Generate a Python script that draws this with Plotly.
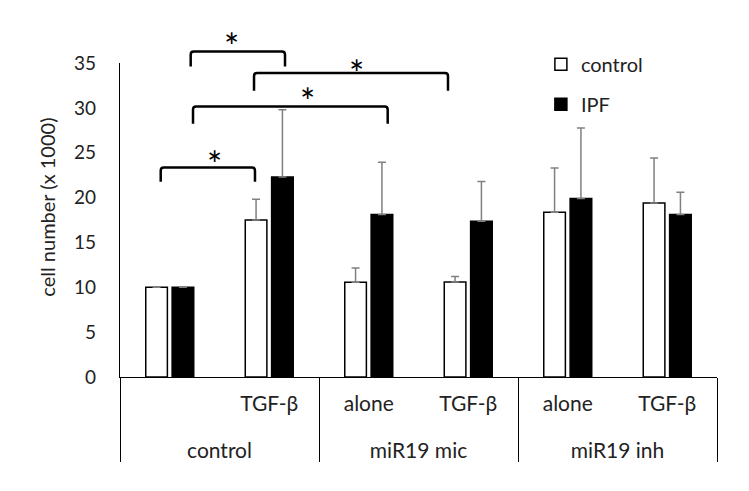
import plotly.graph_objects as go

# ---- data ----
groups = ["control", "control", "miR19 mic", "miR19 mic", "miR19 inh", "miR19 inh"]
subcats = [" ", "TGF-β", "alone", "TGF-β", "alone", "TGF-β"]
control_vals = [10.0, 17.5, 10.55, 10.6, 18.35, 19.4]
control_err = [0.0, 2.3, 1.6, 0.6, 4.95, 5.0]
ipf_vals = [10.0, 22.3, 18.1, 17.35, 19.9, 18.1]
ipf_err = [0.0, 7.5, 5.85, 4.45, 7.85, 2.5]
y_ticks = [0, 5, 10, 15, 20, 25, 30, 35]
y_title = "cell number (x 1000)"

# significance brackets (paper coords): x0, x1, ytop, yend, star_x, star_y
brackets = [
    (0.1184, 0.2764, 1.0369, 0.9892, 0.1876, 1.087),
    (0.2245, 0.5494, 0.9682, 0.9118, 0.3965, 1.001),
    (0.1223, 0.4484, 0.8618, 0.8067, 0.3149, 0.9096),
    (0.0682, 0.2261, 0.6675, 0.6220, 0.1591, 0.7111),
]

FONT = "Lato"
TXT = "#222"
# page body has an 8px default margin, so the figure is 8px smaller
W, H = 741, 483
ML, MR, MT = 112, 32, 55
PW, PH = W - ML - MR, 314
MB = H - MT - PH

# plotly orders multicategory inner labels by first appearance:
# feed points so that "alone" is seen before "TGF-β"
order = [0, 2, 1, 3, 4, 5]
xg = [groups[i] for i in order]
xs = [subcats[i] + "<br> " for i in order]


def pick(a):
    return [a[i] for i in order]


fig = go.Figure()
fig.add_trace(go.Bar(
    x=[xg, xs], y=pick(control_vals), name="control", legendgroup="c",
    marker=dict(color="white", line=dict(color="black", width=1.5)),
    error_y=dict(type="data", array=pick(control_err), symmetric=False, arrayminus=[0] * 6,
                 color="#808080", thickness=1.5, width=4),
))
fig.add_trace(go.Bar(
    x=[xg, xs], y=pick(ipf_vals), name="IPF", legendgroup="i",
    marker=dict(color="black", line=dict(color="black", width=1.5)),
    error_y=dict(type="data", array=pick(ipf_err), symmetric=False, arrayminus=[0] * 6,
                 color="#808080", thickness=1.5, width=4),
))

shapes = []
annotations = []
rx, ry = 3 / PW, 3 / PH
for x0, x1, yt, ye, sx, sy in brackets:
    path = (f"M {x0},{ye} L {x0},{yt - ry} Q {x0},{yt} {x0 + rx},{yt} "
            f"L {x1 - rx},{yt} Q {x1},{yt} {x1},{yt - ry} L {x1},{ye}")
    shapes.append(dict(type="path", xref="paper", yref="paper", path=path,
                       line=dict(color="black", width=2.5)))
    annotations.append(dict(x=sx, y=sy, xref="paper", yref="paper", text="*",
                            showarrow=False, xanchor="center", yanchor="middle",
                            yshift=-10, font=dict(family=FONT, size=36, color="black")))

annotations.append(dict(x=-0.1223, y=0.5424, xref="paper", yref="paper", text=y_title,
                        textangle=-90, showarrow=False, xanchor="center", yanchor="middle",
                        font=dict(family=FONT, size=20, color=TXT)))

fig.update_layout(
    width=W, height=H,
    margin=dict(l=ML, r=MR, t=MT, b=MB, autoexpand=False),
    paper_bgcolor="white", plot_bgcolor="white",
    font=dict(family=FONT, size=20, color=TXT),
    barmode="group", bargap=0.47, bargroupgap=0.18,
    showlegend=True,
    legend=dict(x=0.705, y=1.058, xanchor="left", yanchor="top",
                bgcolor="rgba(0,0,0,0)", tracegroupgap=11,
                font=dict(family=FONT, size=20, color=TXT)),
    shapes=shapes, annotations=annotations,
)
fig.update_xaxes(
    type="multicategory", showline=True, linecolor="black", linewidth=1.3,
    ticks="", showgrid=False, showdividers=True, dividercolor="black", dividerwidth=1.3,
    ticklabelstandoff=8,
    tickfont=dict(family=FONT, size=21, color=TXT),
)
fig.update_yaxes(
    range=[0, 35], tickvals=y_ticks, showline=True, linecolor="black", linewidth=1.3,
    ticks="", showgrid=False, zeroline=False, ticklabelstandoff=19,
    tickfont=dict(family=FONT, size=19, color=TXT),
)

fig.write_html("out.html")
